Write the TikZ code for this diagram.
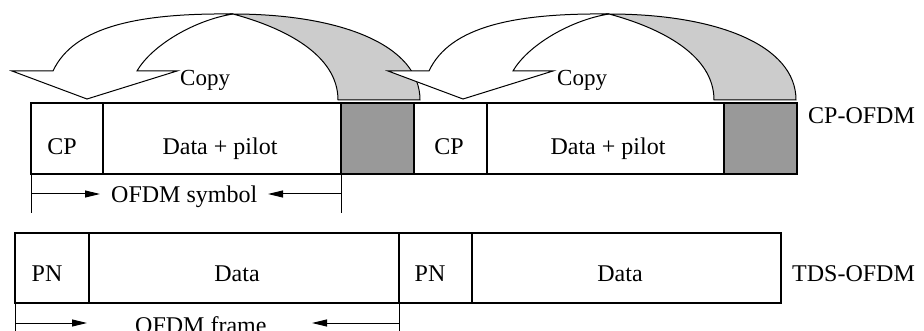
\documentclass[tikz,border=0pt]{standalone}
\usepackage{fontspec}
\setmainfont{Liberation Serif}
\usetikzlibrary{arrows.meta}
\definecolor{cellgray}{RGB}{153,153,153}
\definecolor{ribbongray}{RGB}{204,204,204}
\begin{document}
\begin{tikzpicture}[x=1pt,y=-1pt,
  cell/.style={draw, line width=1.1pt, inner sep=0pt, outer sep=0pt, anchor=north west},
  toprow/.style={cell, minimum height=71pt},
  botrow/.style={cell, minimum height=70pt},
  lab/.style={font=\fontsize{24pt}{28pt}\selectfont, inner sep=0pt, anchor=base},
  sidelab/.style={font=\fontsize{24pt}{28pt}\selectfont, inner sep=0pt, anchor=base west},
  copylab/.style={font=\fontsize{23pt}{27pt}\selectfont, inner sep=0pt, anchor=base west},
  dimline/.style={line width=1pt},
  dimarrow/.style={line width=1pt, -{Triangle[length=15pt,width=7pt]}},
  copyarrow/.pic={
    \filldraw[fill=white, line width=1pt, line join=miter]
      (12,71) -- (53,71) .. controls (74,26) and (140,13) .. (233,14)
      .. controls (195,20) and (152,45) .. (137,71) -- (177,71) -- (87,99) -- cycle;
    \filldraw[fill=ribbongray, line width=1pt, line join=miter]
      (233,14) .. controls (340,14) and (420,45) .. (420,100) -- (338,100)
      .. controls (338,55) and (285,28) .. (233,14) -- cycle;
  }]
\useasboundingbox (0,0) rectangle (924,331);

% top row (CP-OFDM)
\node[toprow, minimum width=72pt]  (cp1) at (31,103) {};
\node[toprow, minimum width=238pt] (dp1) at (103,103) {};
\node[toprow, minimum width=73pt, fill=cellgray] (g1) at (341,103) {};
\node[toprow, minimum width=73pt]  (cp2) at (414,103) {};
\node[toprow, minimum width=237pt] (dp2) at (487,103) {};
\node[toprow, minimum width=73pt, fill=cellgray] (g2) at (724,103) {};

\node[lab] (tcp1) at (62,155) {CP};
\node[lab] (tdp1) at (220,155) {Data + pilot};
\node[lab] (tcp2) at (449,155) {CP};
\node[lab] (tdp2) at (608,155) {Data + pilot};
\node[sidelab] (tcpofdm) at (808,124) {CP-OFDM};

% bottom row (TDS-OFDM)
\node[botrow, minimum width=74pt]  (pn1) at (15,233) {};
\node[botrow, minimum width=310pt] (d1)  at (89,233) {};
\node[botrow, minimum width=73pt]  (pn2) at (399,233) {};
\node[botrow, minimum width=309pt] (d2)  at (472,233) {};

\node[lab] (tpn1) at (47,281) {PN};
\node[lab] (td1)  at (237,281) {Data};
\node[lab] (tpn2) at (430,281) {PN};
\node[lab] (td2)  at (620,281) {Data};
\node[sidelab] (ttds) at (792,282) {TDS-OFDM};

% copy arrows
\pic at (0,0) {copyarrow};
\pic at (376,0) {copyarrow};
\node[copylab] (copy1) at (180,86) {Copy};
\node[copylab] (copy2) at (557,86) {Copy};

% OFDM symbol dimension
\coordinate (s1) at (31,213);
\coordinate (s2) at (341,213);
\coordinate (s1a) at (31,194);
\coordinate (s2a) at (341,194);
\coordinate (s1t) at (100,194);
\coordinate (s2t) at (268,194);
\draw[dimline] (cp1.south west) -- (s1);
\draw[dimline] (g1.south west) -- (s2);
\draw[dimarrow] (s1a) -- (s1t);
\draw[dimarrow] (s2a) -- (s2t);
\node[sidelab] (tsym) at (111,203) {OFDM symbol};

% OFDM frame dimension
\coordinate (f1) at (15,335);
\coordinate (f2) at (399,335);
\coordinate (f1a) at (15,323);
\coordinate (f2a) at (399,323);
\coordinate (f1t) at (87,323);
\coordinate (f2t) at (312,323);
\draw[dimline] (pn1.south west) -- (f1);
\draw[dimline] (pn2.south west) -- (f2);
\draw[dimarrow] (f1a) -- (f1t);
\draw[dimarrow] (f2a) -- (f2t);
\node[sidelab] (tframe) at (135,333) {OFDM frame};
\end{tikzpicture}
\end{document}
